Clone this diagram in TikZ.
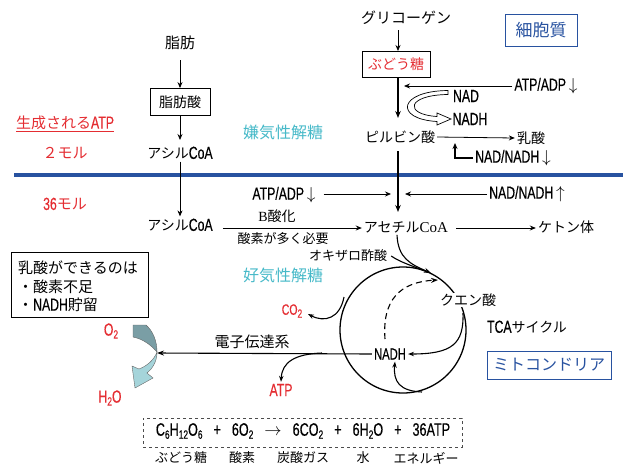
\documentclass[tikz,border=0pt]{standalone}
\usepackage{fontspec}
\setmainfont{Noto Sans CJK JP}
\newfontfamily\cnd[FakeStretch=0.7,FakeBold=0.4]{Liberation Sans}
\newfontfamily\tms{Liberation Serif}
\usetikzlibrary{arrows.meta}
\definecolor{rd}{RGB}{228,45,50}
\definecolor{cy}{RGB}{70,185,200}
\definecolor{bl}{RGB}{40,82,160}
\definecolor{dk}{RGB}{122,158,165}
\definecolor{lt}{RGB}{165,212,218}
\newcommand{\sbs}[1]{\raisebox{-3pt}{\fontsize{12}{12}\selectfont #1}}
\newcommand{\lt}[1]{{\cnd\fontsize{17.5}{17}\selectfont #1}}
\newcommand{\dn}{\,$\downarrow$}
\newcommand{\up}{\,$\uparrow$}
\newcommand{\gp}{\hspace{11pt}}
\tikzset{
 jp/.style={font=\fontsize{14}{16}\selectfont, inner sep=2pt},
 jps/.style={font=\fontsize{13}{15}\selectfont, inner sep=2pt},
 lat/.style={font=\cnd\fontsize{17.5}{19}\selectfont, inner sep=2pt},
 arr/.style={line width=0.8pt, -{Stealth[length=6pt,width=5pt]}},
 thk/.style={line width=1.6pt},
 bx/.style={draw, line width=0.9pt, inner sep=4pt},
}
\begin{document}
\begin{tikzpicture}[x=1pt,y=-1pt]
\useasboundingbox (0,0) rectangle (623,464);
% blue boundary
\draw[bl, line width=4pt] (14,175) -- (623,175);
% left column
\node[jp, font=\fontsize{15}{17}\selectfont] (shibou) at (180,43) {脂肪};
\node[bx, jp, minimum width=60, minimum height=27] (shibousan) at (180,102) {脂肪酸};
\node[jp] (acyl1) at (180,153) {アシル\lt{CoA}};
\node[jp] (acyl2) at (180,225) {アシル\lt{CoA}};
\draw[arr] (180,60) -- (shibousan.north);
\draw[arr] (shibousan.south) -- (180,140);
\draw[arr] (acyl1.south) -- (acyl2.north);
% ATP labels left
\node[jp, text=rd, font=\fontsize{15}{17}\selectfont] (seisei) at (65,124) {\underline{生成される\lt{ATP}}};
\node[jp, text=rd, font=\fontsize{15}{17}\selectfont] (mol2) at (65,153) {２モル};
\node[jp, text=rd, font=\fontsize{15}{17}\selectfont] (mol36) at (65,204) {\lt{36}モル};
% glycolysis
\node[jp, font=\fontsize{15}{17}\selectfont] (glyc) at (406,18) {グリコーゲン};
\node[bx, jp, text=rd, minimum width=68, minimum height=26] (budou) at (396,64) {ぶどう糖};
\node[jp] (pyr) at (400,137) {ピルビン酸};
\node[jp] (nyu) at (531,138) {乳酸};
\node[jp] (acetyl) at (406,227) {アセチル{\tms\fontsize{15}{15}\selectfont CoA}};
\node[jp] (keton) at (566,227) {ケトン体};
\draw[arr] (398,30) -- (398,51);
\draw[thk, -{Stealth[length=7pt,width=5.5pt]}] (398,77) -- (398,118);
\draw[thk, -{Stealth[length=7pt,width=5.5pt]}] (398,151) -- (398,212);
\node[lat] (atp1) at (546,86) {ATP/ADP\dn};
\coordinate (c_atp1) at (404,86);
\draw[arr] (atp1.west) -- (c_atp1);
\node[lat] (nad) at (466,96) {NAD};
\node[lat] (nadh) at (470,119) {NADH};
\draw[line width=0.7pt, fill=white, line join=miter] (448,90.5) .. controls (398,91) and (394,119) .. (437,121.5) -- (437,125) -- (451,119) -- (437,113) -- (437,116.5) .. controls (404,114.5) and (406,95) .. (448,94.5) -- cycle;
\draw[arr] (pyr.east) -- (nyu.west);
\node[lat] (nn1) at (513,158) {NAD/NADH\dn};
\coordinate (c_nn1) at (455,143);
\draw[thk, -{Stealth[length=6pt,width=5pt]}] (nn1.west) -| (c_nn1);
% beta oxidation
\node[lat] (atp2) at (284,195) {ATP/ADP\dn};
\coordinate (c_atp2) at (391,194);
\draw[arr] (atp2.east) ++(6,-1) -- (c_atp2);
\node[lat] (nn2) at (527,194) {NAD/NADH\up};
\coordinate (c_nn2) at (405,194);
\draw[arr] (nn2.west) -- (c_nn2);
\node[jps, font=\fontsize{14}{16}\selectfont] (beta) at (277,216) {{\tms B}酸化};
\node[jps] (oxy) at (283,239) {酸素が多く必要};
\draw[arr] (acyl2.east) ++(8,3) -- (acetyl.west |- 0,228);
\draw[arr] (acetyl.east) ++(6,1) -- (keton.west |- 0,228);
\node[jps] (oxalo) at (348,256) {オキザロ酢酸};
\node[jp, text=cy, font=\fontsize{16}{18}\selectfont] (ken) at (283,132) {嫌気性解糖};
\node[jp, text=cy, font=\fontsize{16}{18}\selectfont] (kou) at (283,275) {好気性解糖};
% boxes
\node[draw=bl, line width=1pt, text=bl, font=\fontsize{17}{19}\selectfont, minimum width=72, minimum height=32, inner sep=2pt] (saibou) at (541,30) {細胞質};
\node[draw=bl, line width=1pt, text=bl, font=\fontsize{16}{18}\selectfont, minimum width=124, minimum height=28, inner sep=2pt] (mito) at (549,365) {ミトコンドリア};
\node[draw, line width=0.9pt, minimum width=137, minimum height=65, inner sep=0pt] (lbox) at (79.5,284.5) {};
\node[jp, font=\fontsize{15}{17}\selectfont, anchor=west] (l1) at (16,268) {乳酸ができるのは};
\node[jp, font=\fontsize{15}{17}\selectfont, anchor=west] (l2) at (16,287) {・酸素不足};
\node[jp, font=\fontsize{15}{17}\selectfont, anchor=west] (l3) at (16,305) {・\lt{NADH}貯留};
% TCA cycle
\node[circle, draw, line width=1.3pt, minimum size=126, inner sep=0pt] (tca) at (403,330) {};
\node[jp, fill=white, inner sep=1pt] (citric) at (468,300) {クエン酸};
\node[jp] (tcalbl) at (527,327) {\lt{TCA}サイクル};
\node[lat, font=\cnd\fontsize{16}{18}\selectfont] (nadh2) at (390,354) {NADH};
\draw[line width=1.1pt, -{Stealth[length=7pt,width=5pt]}] (acetyl.south -| 397,0) .. controls (398,258) and (410,264) .. (431,273);
\draw[line width=1.1pt] (oxalo.east) ++(2,0) .. controls (400,262) and (410,265) .. (425,271);
\draw[line width=1.1pt, dashed, dash pattern=on 6pt off 4pt, -{Stealth[length=7pt,width=5pt]}] (385,339) .. controls (382,300) and (400,282) .. (438,280);
\coordinate (c_co2) at (308,314);
\draw[line width=1.1pt, -{Stealth[length=6pt,width=4.5pt]}] (344,297) .. controls (340,318) and (325,323) .. (c_co2);
\draw[line width=1.1pt, -{Stealth[length=6pt,width=4.5pt]}] (463,313) .. controls (464,344) and (452,354) .. (nadh2.east);
\draw[line width=1.1pt, -{Stealth[length=6pt,width=4.5pt]}] (422,392) .. controls (400,391) and (393,382) .. (nadh2.south -| 395,0);
\node[font=\cnd\fontsize{15}{17}\selectfont, text=rd, inner sep=1pt] (co2) at (292,311) {CO\sbs{2}};
% electron transport
\node[jp, font=\fontsize{15}{17}\selectfont] (denshi) at (252,342) {電子伝達系};
\coordinate (c_et) at (157,353);
\draw[line width=1.1pt, -{Stealth[length=7pt,width=5pt]}] (nadh2.west) -- (c_et);
\node[lat, text=rd] (atp3) at (281,390) {ATP};
\draw[line width=1.1pt, -{Stealth[length=6pt,width=4.5pt]}] (322,353) .. controls (295,354) and (282,362) .. (atp3.north);
\node[lat, text=rd] (o2) at (111,331) {O\sbs{2}};
\node[lat, text=rd] (h2o) at (110,398) {H\sbs{2}O};
% block arrow
\filldraw[fill=dk, draw=black!60, line width=0.4pt] (133,325) -- (146,325) .. controls (153,331) and (157,341) .. (157,352) .. controls (151,345) and (143,339) .. (133,337) -- cycle;
\filldraw[fill=lt, draw=black!60, line width=0.4pt] (157,352) .. controls (157,362) and (152,369) .. (147,373) -- (153,378) -- (135,388) -- (132,366) -- (139,369) .. controls (147,366) and (154,360) .. (157,352) -- cycle;
% equation
\node[draw=black!70, dashed, line width=0.8pt, minimum width=319, minimum height=29, inner sep=0pt] (eqbox) at (302.5,432.5) {};
\node[font=\cnd\fontsize{18}{19}\selectfont, inner sep=0pt] (eq) at (303,431) {C\sbs{6}H\sbs{12}O\sbs{6}\gp+\gp 6O\sbs{2}\gp$\rightarrow$\gp 6CO\sbs{2}\gp+\gp 6H\sbs{2}O\gp+\gp 36ATP};
\node[jps] (e1) at (181,458) {ぶどう糖};
\node[jps] (e2) at (242,458) {酸素};
\node[jps] (e3) at (303,458) {炭酸ガス};
\node[jps] (e4) at (363,458) {水};
\node[jps] (e5) at (426,458) {エネルギー};
\end{tikzpicture}
\end{document}
